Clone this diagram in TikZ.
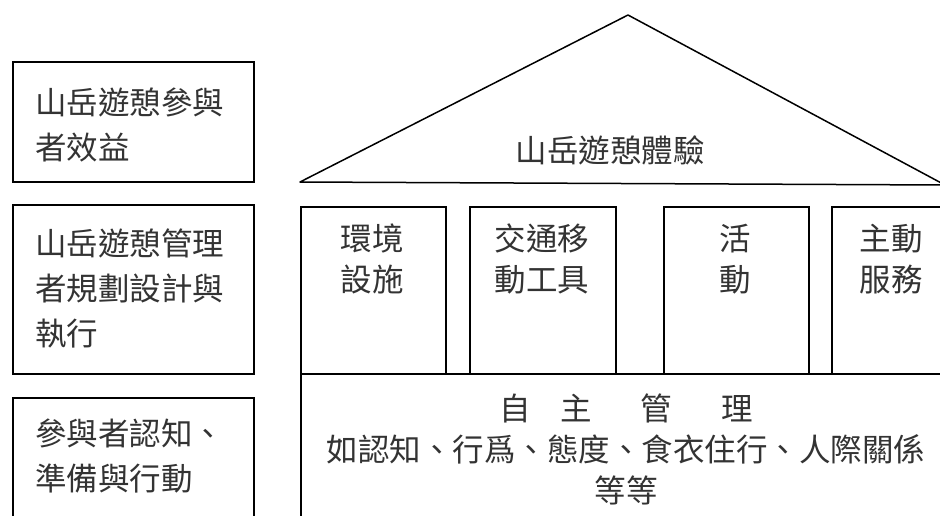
\documentclass[tikz,border=0pt]{standalone}
\usepackage{fontspec}
\newfontfamily\cjk{Noto Sans CJK TC}
\begin{document}
\begin{tikzpicture}[x=1pt,y=-1pt,
  frame/.style={draw=black, line width=1.5pt},
  boxn/.style={frame, inner sep=0pt, anchor=north west},
  lbl/.style={font=\cjk\fontsize{31.5}{45}\selectfont, text=black!80, inner sep=0pt},
  plbl/.style={font=\cjk\fontsize{31.5}{41}\selectfont, text=black!80, inner sep=0pt, align=center}
 ]
\useasboundingbox (0,0) rectangle (940,515);
\clip (0,0) rectangle (940,515);
% left boxes
\node[boxn, minimum width=241pt, minimum height=120pt] (b1) at (12,61) {};
\node[boxn, minimum width=241pt, minimum height=169pt] (b2) at (12,204) {};
\node[boxn, minimum width=241pt, minimum height=140pt] (b3) at (12,397) {};
\node[lbl, anchor=west, align=left] (t1) at (35,125) {山岳遊憩參與\\者效益};
\node[lbl, anchor=west, align=left] (t2) at (35,288) {山岳遊憩管理\\者規劃設計與\\執行};
\node[lbl, anchor=west, align=left] (t3) at (35,456) {參與者認知、\\準備與行動};
% roof
\coordinate (bl) at (300,182);
\coordinate (apex) at (628,15);
\coordinate (br) at (945,185);
\draw[frame, line join=round] (bl) -- (apex) -- (br) -- cycle;
\node[lbl] (roof) at (610,150) {山岳遊憩體驗};
% pillars
\node[boxn, minimum width=145pt, minimum height=167pt] (p1) at (300,206) {};
\node[boxn, minimum width=146pt, minimum height=167pt] (p2) at (469,206) {};
\node[boxn, minimum width=145pt, minimum height=167pt] (p3) at (663,206) {};
\node[boxn, minimum width=145pt, minimum height=167pt] (p4) at (831,206) {};
\node[plbl] (pt1) at (372,259) {環境\\設施};
\node[plbl] (pt2) at (542,259) {交通移\\動工具};
\node[plbl] (pt3) at (735,259) {活\\動};
\node[plbl] (pt4) at (891,259) {主動\\服務};
% base
\node[boxn, minimum width=660pt, minimum height=170pt] (base) at (300,373) {};
\node[plbl] (bt) at (626,449) {自\hspace{30pt}主\hspace{49pt}管\hspace{49pt}理\\如認知、行爲、態度、食衣住行、人際關係\\等等};
\end{tikzpicture}
\end{document}
